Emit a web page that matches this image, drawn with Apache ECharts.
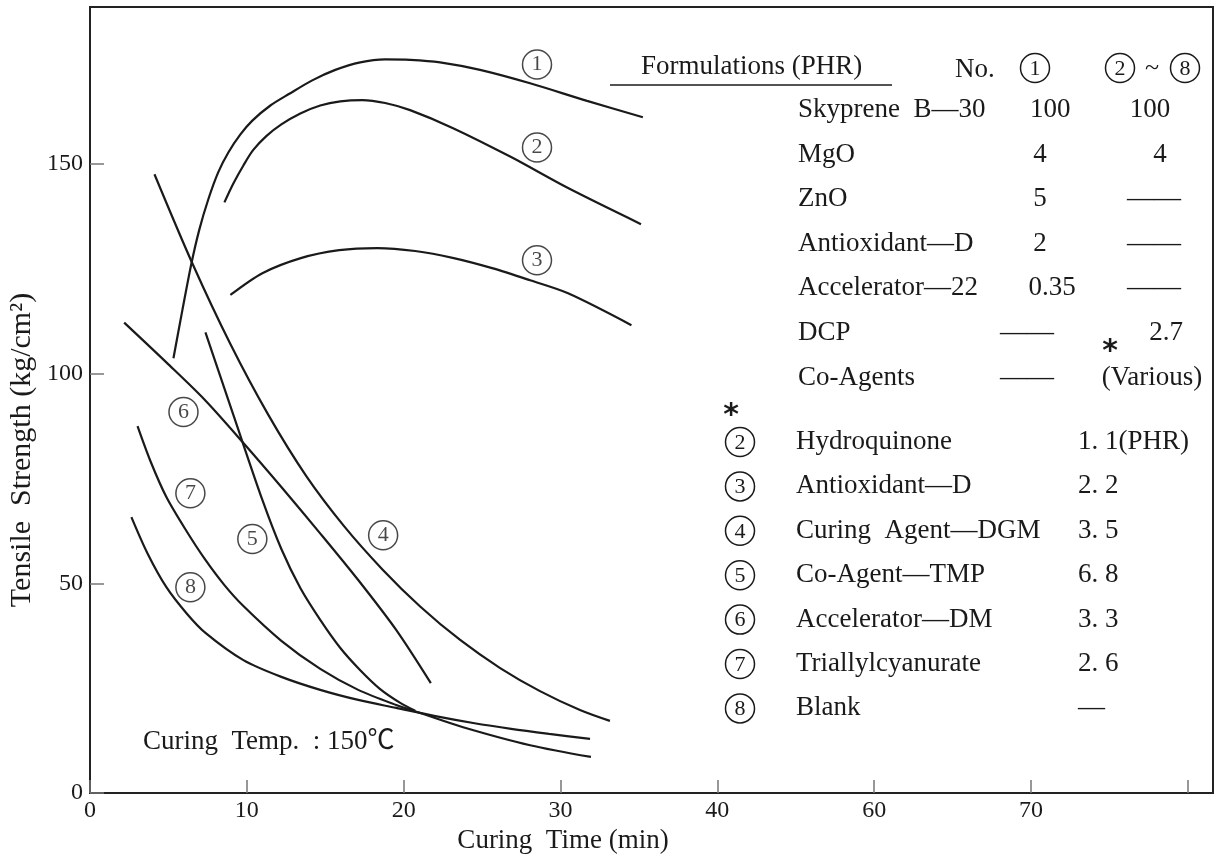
<!DOCTYPE html>
<html><head><meta charset="utf-8">
<script src="https://cdn.jsdelivr.net/npm/echarts/dist/echarts.min.js"></script>
<style>html,body{margin:0;padding:0;background:#fff}#c{width:1219px;height:858px}</style>
</head><body><div id="c"></div>
<script>
// ---- data ----
const xTickLabels = ['0','10','20','30','40','60','70'];
const yTickLabels = ['0','50','100','150'];
const curve1 = [[5.32,103.7],[5.89,115.2],[6.46,126.2],[6.97,134.4],[7.55,141.7],[8.18,148.1],[8.82,152.8],[9.59,157.1],[10.35,160.4],[11.50,164.0],[12.71,166.8],[14.17,170.0],[15.64,172.5],[17.23,174.3],[18.82,175.0],[20.41,174.9],[22.32,174.3],[24.87,172.5],[28.06,169.3],[31.69,165.1],[35.25,161.2]];
const curve2 = [[8.57,140.9],[9.14,145.4],[9.78,149.7],[10.41,153.4],[11.24,156.7],[12.20,159.5],[13.41,162.1],[14.68,164.0],[15.96,165.0],[17.36,165.3],[18.82,164.6],[20.41,162.9],[23.15,158.6],[26.85,151.7],[30.48,144.3],[35.13,135.7]];
const curve3 = [[8.95,118.8],[10.99,124.0],[13.44,127.6],[15.89,129.5],[18.31,130.0],[20.73,129.3],[23.19,127.6],[25.64,125.2],[28.06,122.3],[30.48,119.2],[34.52,111.6]];
const curve4 = [[4.11,147.6],[6.53,126.3],[8.95,107.1],[11.37,90.2],[13.79,75.6],[16.21,63.6],[18.63,53.4],[21.05,44.5],[23.60,36.5],[26.15,29.8],[28.69,24.3],[31.24,19.8],[33.15,17.2]];
const curve5 = [[7.36,109.9],[9.14,90.2],[10.99,69.9],[12.20,58.2],[13.41,48.9],[14.68,41.3],[15.96,34.6],[17.23,29.3],[18.50,24.8],[19.78,21.5],[20.73,19.6]];
const curve6 = [[2.18,112.2],[4.90,102.6],[7.34,93.7],[9.78,83.5],[12.20,73.0],[14.66,62.0],[17.10,50.8],[19.52,38.9],[21.73,26.2]];
const curve7 = [[3.03,87.5],[3.85,79.2],[4.87,70.6],[6.15,62.5],[7.36,55.6],[8.57,49.6],[9.78,44.6],[12.20,36.3],[14.68,29.6],[17.10,24.6],[19.52,21.0],[21.05,19.1],[23.79,15.7],[28.06,11.4],[31.94,8.6]];
const curve8 = [[2.64,65.8],[3.66,57.2],[4.87,49.1],[6.15,42.9],[7.36,38.2],[9.78,31.7],[12.20,27.7],[14.68,24.6],[17.10,22.2],[19.52,20.3],[21.94,18.4],[24.43,16.7],[26.85,15.3],[29.27,14.1],[31.88,12.9]];
const curveLabels = [[28.5,173.8,'1'],[28.5,154.0,'2'],[28.5,127.1,'3'],[18.69,61.5,'4'],[10.35,60.6,'5'],[5.96,90.9,'6'],[6.40,71.5,'7'],[6.40,49.1,'8']];
const tableRows = ['Skyprene  B—30','MgO','ZnO','Antioxidant—D','Accelerator—22','DCP','Co-Agents'];
const tableCol1 = ['100','4','5','2','0.35','——','——'];
const tableCol2 = ['100','4','——','——','——','2.7','(Various)'];
const listNames = ['Hydroquinone','Antioxidant—D','Curing  Agent—DGM','Co-Agent—TMP','Accelerator—DM','Triallylcyanurate','Blank'];
const listValues = ['1. 1(PHR)','2. 2','3. 5','6. 8','3. 3','2. 6','—'];
const listNums = ['2','3','4','5','6','7','8'];

// ---- layout ----
const FONT = '"Liberation Serif", "Noto Sans CJK JP", serif';
const INK = '#1a1a1a';
const col1X = [1030, 1040, 1040, 1040, 1052, 1027, 1027];
const col1Align = ['left','center','center','center','center','center','center'];
const col2X = [1150, 1160, 1154, 1154, 1154, 1166, 1152];
const chart = echarts.init(document.getElementById('c'), null, {renderer:'canvas'});

function txt(x, y, s, o) {
  o = o || {};
  return {type:'text', z:10, x:x, y:y, rotation:o.rot||0,
    style:{text:s, fill:INK, font:(o.weight||'normal')+' '+(o.size||27)+'px '+(o.family||FONT), textAlign:o.align||'left', textVerticalAlign:'middle'}};
}
function circ(x, y, d) {
  return {type:'group', z:10, children:[
    {type:'circle', shape:{cx:x, cy:y, r:14.5}, style:{fill:'none', stroke:INK, lineWidth:1.5}},
    {type:'text', x:x, y:y+1, style:{text:d, fill:INK, font:'22px '+FONT, textAlign:'center', textVerticalAlign:'middle'}}
  ]};
}
const g = [];
g.push(txt(22, 450, 'Tensile  Strength (kg/cm²)', {rot:Math.PI/2, align:'center', size:30}));
g.push(txt(563, 841, 'Curing  Time (min)', {align:'center', size:27}));
g.push(txt(143, 742, 'Curing  Temp.  : 150℃', {size:27}));
// table header
g.push(txt(641, 67, 'Formulations (PHR)', {size:27}));
g.push({type:'line', z:10, shape:{x1:610, y1:85, x2:892, y2:85}, style:{stroke:INK, lineWidth:1.5}});
g.push(txt(955, 70, 'No.', {size:27}));
g.push(circ(1035, 68, '1'));
g.push(circ(1120, 68, '2'));
g.push(txt(1152, 68, '~', {size:26, align:'center'}));
g.push(circ(1185, 68, '8'));
const rowY0 = 110, rowDy = 44.6;
tableRows.forEach((r,i)=>{
  const y = rowY0 + i*rowDy;
  g.push(txt(798, y, r));
  g.push(txt(col1X[i], y, tableCol1[i], {align:col1Align[i]}));
  g.push(txt(col2X[i], y, tableCol2[i], {align:'center'}));
});
g.push(txt(1110, 352, '*', {size:30, align:'center', weight:'bold', family:'"DejaVu Sans"'}));
g.push(txt(731, 416, '*', {size:30, align:'center', weight:'bold', family:'"DejaVu Sans"'}));
const listY0 = 442, listDy = 44.4;
listNames.forEach((n,i)=>{
  const y = listY0 + i*listDy;
  g.push(circ(740, y, listNums[i]));
  g.push(txt(796, y, n));
  g.push(txt(1078, y, listValues[i]));
});

const lineSeries = [curve1,curve2,curve3,curve4,curve5,curve6,curve7,curve8].map((d,i)=>({
  name:'('+(i+1)+')', type:'line', data:d, smooth:0.3, symbol:'none', z:3,
  lineStyle:{color:INK, width:2.2}
}));

chart.setOption({
  animation:false,
  backgroundColor:'#fff',
  grid:{left:90, right:6, top:7, bottom:65, show:true, borderColor:'#222', borderWidth:2, backgroundColor:'transparent'},
  xAxis:{type:'value', min:0, max:71.6, interval:10,
    axisLine:{show:true, lineStyle:{color:'#222', width:2}},
    axisTick:{show:true, inside:true, length:13, lineStyle:{color:'#777', width:1.5}},
    axisLabel:{fontFamily:FONT, fontSize:24, color:INK, margin:6, showMaxLabel:false,
      formatter:v=>{const k=Math.round(v/10); return (Math.abs(v-k*10)<1e-6 && k<xTickLabels.length)?xTickLabels[k]:'';}},
    splitLine:{show:false}},
  yAxis:{type:'value', min:0, max:187.5, interval:50,
    axisLine:{show:true, lineStyle:{color:'#222', width:2}},
    axisTick:{show:true, inside:true, length:14, lineStyle:{color:'#777', width:1.5}},
    axisLabel:{fontFamily:FONT, fontSize:24, color:INK, margin:7, showMaxLabel:false,
      formatter:v=>{const k=Math.round(v/50); return (Math.abs(v-k*50)<1e-6 && k<yTickLabels.length)?yTickLabels[k]:'';}},
    splitLine:{show:false}},
  series: lineSeries.concat([{
    name:'labels', type:'scatter', data:curveLabels, symbol:'circle', symbolSize:29, z:5,
    itemStyle:{color:'rgba(255,255,255,0)', borderColor:INK, borderWidth:1.5},
    label:{show:true, position:'inside', formatter:p=>p.value[2], fontFamily:FONT, fontSize:22, color:INK}
  }]),
  graphic:g
});
</script></body></html>
